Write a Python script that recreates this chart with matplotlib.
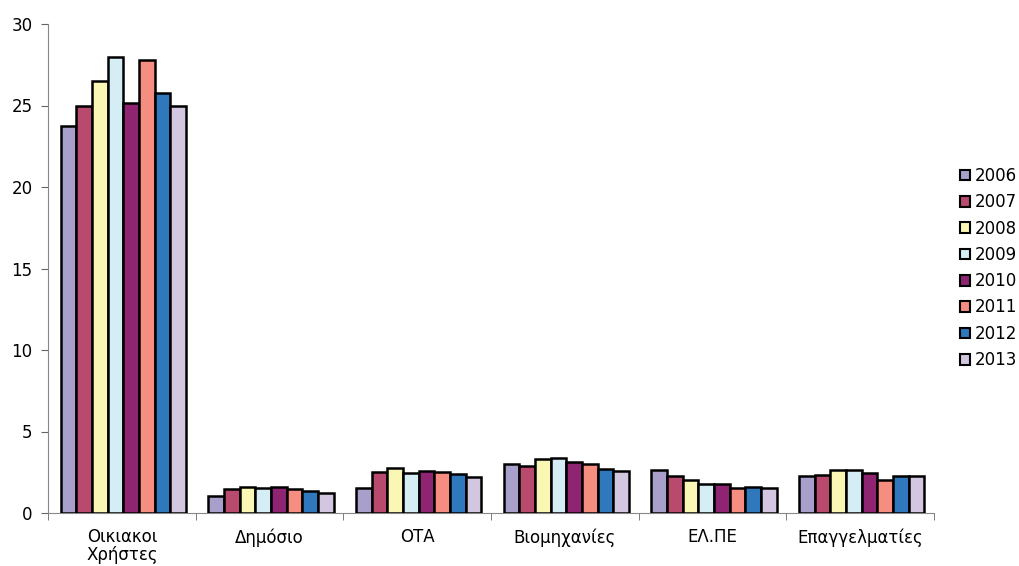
import matplotlib.pyplot as plt
import numpy as np
from matplotlib.patches import Patch

categories = ["Οικιακοι\nΧρήστες", "Δημόσιο", "ΟΤΑ", "Βιομηχανίες", "ΕΛ.ΠΕ", "Επαγγελματίες"]
years = ["2006", "2007", "2008", "2009", "2010", "2011", "2012", "2013"]

v2006 = [23.75, 1.04, 1.51, 3.00, 2.62, 2.29]
v2007 = [24.95, 1.47, 2.49, 2.90, 2.25, 2.35]
v2008 = [26.50, 1.58, 2.79, 3.29, 2.00, 2.66]
v2009 = [27.95, 1.53, 2.45, 3.37, 1.76, 2.66]
v2010 = [25.15, 1.61, 2.57, 3.14, 1.80, 2.47]
v2011 = [27.80, 1.45, 2.53, 3.03, 1.51, 2.00]
v2012 = [25.75, 1.35, 2.39, 2.70, 1.61, 2.27]
v2013 = [25.00, 1.25, 2.21, 2.56, 1.51, 2.27]
series = [v2006, v2007, v2008, v2009, v2010, v2011, v2012, v2013]

colors = ["#A99FCB", "#B84A6E", "#FAF7B5", "#D5EEF5",
          "#8E2472", "#F58E80", "#2F78BC", "#D2C6E0"]

plt.rcParams['font.family'] = ['DejaVu Sans']
fig = plt.figure(figsize=(10.19, 5.66), dpi=100)
ax = fig.add_axes([48/1019, 1 - 513/566, (934-48)/1019, (513-24)/566])

n = len(years)
w = 0.106
x = np.arange(len(categories))
for i, (vals, c) in enumerate(zip(series, colors)):
    ax.bar(x + (i - (n-1)/2)*w + 0.01, vals, w, color=c, edgecolor='black',
           linewidth=1.8, label=years[i], zorder=3)

ax.set_xlim(-0.5, len(categories) - 0.5)
ax.set_ylim(0, 30)
ax.set_yticks([0, 5, 10, 15, 20, 25, 30])
ax.set_xticks(x)
ax.set_xticklabels(categories, fontsize=12, linespacing=0.95)
ax.tick_params(axis='x', which='major', length=0, pad=11)
ax.set_xticks(np.arange(len(categories)+1) - 0.5, minor=True)
ax.tick_params(axis='x', which='minor', length=5, color='#666666')
ax.tick_params(axis='y', labelsize=12, length=5, color='#666666', pad=6)
for s in ['top', 'right']:
    ax.spines[s].set_visible(False)
for s in ['left', 'bottom']:
    ax.spines[s].set_color('#888888')

handles = [Patch(facecolor=c, edgecolor='black', linewidth=1.5) for c in colors]
fig.legend(handles, years, loc='center left', bbox_to_anchor=(953/1019, 1 - 268/566),
           frameon=False, fontsize=12, handlelength=0.6, handleheight=0.6,
           handletextpad=0.3, labelspacing=0.5, borderaxespad=0)

fig.savefig("out.png", dpi=100)
